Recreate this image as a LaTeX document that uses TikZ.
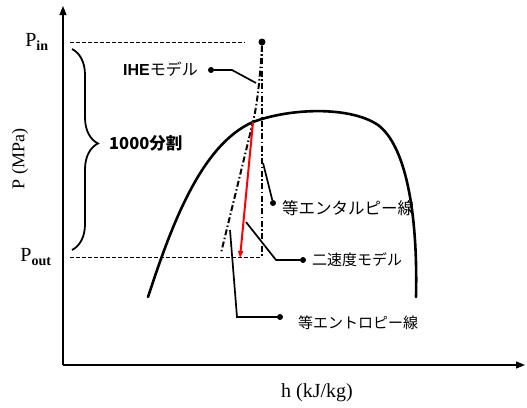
\documentclass[tikz,border=0pt]{standalone}
\usepackage{fontspec}
\setmainfont{Liberation Serif}
\newfontfamily\jpfont{Noto Sans CJK JP}
\newfontfamily\jpsans{Liberation Sans}
\usepackage{tikz}
\usetikzlibrary{arrows.meta,positioning,calc,decorations.pathreplacing}

\begin{document}
\begin{tikzpicture}[x=1pt,y=-1pt,
    phaxis/.style={line width=1.2pt,-{Triangle[length=9pt,width=7pt]}},
    phdome/.style={line width=2.6pt,line cap=round},
    phdashdot/.style={line width=2pt,dash pattern=on 6pt off 2.5pt on 1.5pt off 2.5pt},
    phlevel/.style={line width=0.9pt,dash pattern=on 4pt off 2pt},
    phlead/.style={line width=1.7pt},
    phdot/.style={circle,fill=black,inner sep=0pt,minimum size=6pt},
    phjp/.style={font=\jpfont\fontsize{15}{16}\selectfont,inner sep=1pt},
    phtex/.style={font=\fontsize{20}{22}\selectfont,inner sep=1pt}
]
\useasboundingbox (0,0) rectangle (527,407);
% axes
\coordinate (origin) at (63,365);
\coordinate (ytop) at (63,6);
\coordinate (xend) at (525,365);
\draw[phaxis] (origin)--(ytop);
\draw[phaxis] (origin)--(xend);
\node[phtex] (xlabel) at (317,393) {h (kJ/kg)};
\node[phtex,font=\fontsize{18}{20}\selectfont,rotate=90] (ylabel) at (20,159) {P (MPa)};
\node[phtex] (pin) at (37,42) {P\textsubscript{\fontsize{14}{14}\selectfont\textbf{in}}};
\node[phtex] (pout) at (36,257) {P\textsubscript{\fontsize{14}{14}\selectfont\textbf{out}}};
% saturation dome
\draw[phdome] (148,297) .. controls (170,230) and (200,145) .. (253,122)
    .. controls (290,108) and (350,106) .. (378,125)
    .. controls (405,145) and (418,210) .. (416,297);
% pressure levels
\node[phdot,minimum size=7pt] (inlet) at (262,42) {};
\coordinate (outlet) at (262,257);
\coordinate (inleft) at (70,42);
\coordinate (inright) at (245,42);
\coordinate (outleft) at (70,257);
\draw[phlevel] (inleft)--(inright);
\draw[phlevel] (outleft)--(outlet);
% brace
\draw[line width=1.8pt,decorate,decoration={brace,amplitude=26pt,aspect=0.47}]
    (72,49)--(72,250);
\node[phjp,anchor=west,font=\jpfont\bfseries\fontsize{16.5}{17}\selectfont] (split) at (108,143) {1000分割};
% isenthalpic line
\draw[phdashdot] (inlet)--(outlet);
% isentropic / IHE line
\coordinate (satpt) at (253,122);
\coordinate (isend) at (221,253);
\draw[phdashdot] (inlet.south) .. controls (260,80) and (257,105) .. (satpt)--(isend);
% two-velocity model
\coordinate (tvend) at (240,258);
\draw[red,line width=2pt,-{Triangle[length=7pt,width=5pt]}] (satpt)--(tvend);
% leaders
\node[phdot] (ihedot) at (211,70) {};
\node[phjp,anchor=east,font=\jpfont\fontsize{16}{17}\selectfont] (ihe) at (199,69) {{\jpsans\bfseries IHE}モデル};
\coordinate (ihebend) at (232,70);
\coordinate (iheend) at (256,83);
\draw[phlead] (ihedot)--(ihebend)--(iheend);

\node[phdot] (hdot) at (273,203) {};
\node[phjp,anchor=west,font=\jpfont\fontsize{16.5}{17}\selectfont] (hlab) at (281,208) {等エンタルピー線};
\coordinate (hstart) at (263,163);
\draw[phlead] (hstart)--(hdot);

\node[phdot] (tvdot) at (303,260) {};
\node[phjp,anchor=west] (tvlab) at (311,260) {二速度モデル};
\coordinate (tvstart) at (246,222);
\coordinate (tvbend) at (276,260);
\draw[phlead] (tvstart)--(tvbend)--(tvdot);

\node[phdot] (sdot) at (280,317) {};
\node[phjp,anchor=west] (slab) at (297,323) {等エントロピー線};
\coordinate (sstart) at (230,230);
\coordinate (sbend) at (237,317);
\draw[phlead] (sstart)--(sbend)--(sdot);
\end{tikzpicture}
\end{document}
